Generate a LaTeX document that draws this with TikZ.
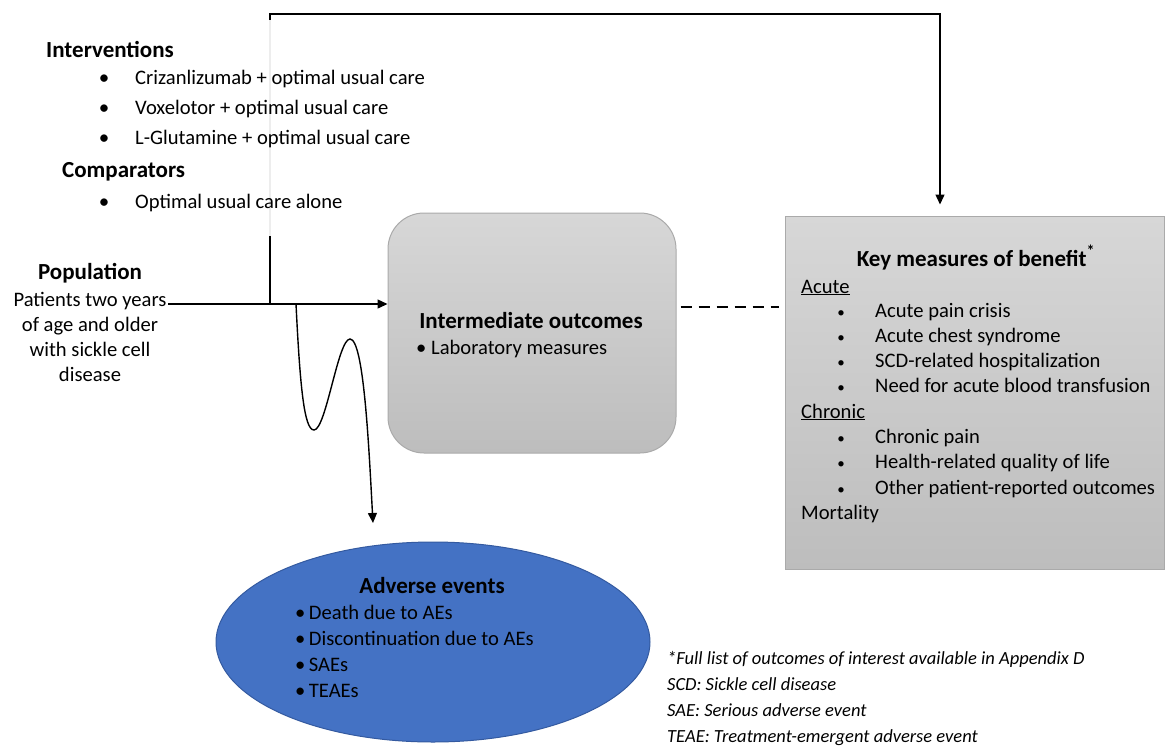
\documentclass[tikz,border=0pt]{standalone}
\usepackage{fontspec}
\setmainfont{Carlito}
\usetikzlibrary{arrows.meta,shapes.geometric}

\definecolor{boxTop}{RGB}{215,215,215}
\definecolor{boxBottom}{RGB}{189,189,189}
\definecolor{boxBorder}{RGB}{170,170,170}
\definecolor{aeFill}{RGB}{68,114,196}
\definecolor{aeBorder}{RGB}{52,90,160}

\begin{document}
\begin{tikzpicture}[x=1pt,y=-1pt,%%
  lineStyle/.style={-,line width=1.4pt},%%
  arrowStyle/.style={lineStyle,-{Triangle[length=10pt,width=9pt]}},%%
  dashStyle/.style={-,line width=2.6pt,dash pattern=on 11pt off 7pt},%%
  textStyle/.style={inner sep=0pt,anchor=base west,font=\fontsize{20.6}{24}\selectfont},%%
  titleStyle/.style={textStyle,font=\fontsize{23}{27}\selectfont\bfseries},%%
  noteStyle/.style={textStyle,font=\fontsize{18.5}{22}\selectfont\itshape},%%
  bulletStyle/.style={inner sep=0pt,anchor=base,font=\fontsize{21}{24}\selectfont},%%
  smallBulletStyle/.style={bulletStyle,font=\fontsize{15}{22}\selectfont},%%
  greyBox/.style={draw=boxBorder,line width=1pt,top color=boxTop,bottom color=boxBottom,inner sep=0pt}
]
\useasboundingbox (0,0) rectangle (1165,748);
%%
%% Points where the connectors start or end.
%%
\coordinate (popStart) at (168,304);
\coordinate (split) at (270,304);
\coordinate (topRight) at (940,14);
\coordinate (waveStart) at (296,304);
\coordinate (waveEnd) at (373,523);
%%
%% The boxes.
%%
\node[greyBox,minimum width=379,minimum height=353] (keyBox) at (974.5,392.5) {};
%% The link to the key measures, hidden behind the list of interventions.
\draw[arrowStyle,shorten >=11pt] (split) |- (topRight) -- (topRight |- keyBox.north);
\node[fill=white,fill opacity=0.93,minimum width=400,minimum height=216,inner sep=0pt] (introCover) at (235,128) {};
\node[greyBox,rounded corners=36pt,minimum width=288,minimum height=240] (interm) at (532,333) {};
\node[ellipse,draw=aeBorder,fill=aeFill,line width=1pt,minimum width=434,minimum height=200,inner sep=0pt] (ae) at (433,642) {};
%%
%% The connectors.
%%
\draw[arrowStyle] (popStart) -- (popStart -| interm.west);
\draw[dashStyle,shorten >=6pt] ([xshift=4pt,yshift=26pt]interm.east) -- ([yshift=26pt]interm.east -| keyBox.west);
\draw[arrowStyle] (waveStart) .. controls (300,385) and (304,430) .. (314,430)
  .. controls (326,430) and (338,339) .. (350,339)
  .. controls (364,339) and (369,450) .. (waveEnd);
%%
%% Interventions and comparators.
%%
\node[titleStyle] (interv) at (46,57) {Interventions};
\foreach \entry [count=\i] in {Crizanlizumab + optimal usual care,Voxelotor + optimal usual care,L-Glutamine + optimal usual care}{
  \node[bulletStyle] (intervBullet\i) at (104,84+30*\i-30) {\textbullet};
  \node[textStyle] (interv\i) at (135,84+30*\i-30) {\entry};
}
\node[titleStyle] (comp) at (62,177) {Comparators};
\node[bulletStyle] (compBullet) at (104,208) {\textbullet};
\node[textStyle] (comp1) at (135,208) {Optimal usual care alone};
%%
%% Population.
%%
\node[titleStyle,anchor=base] (pop) at (90,279) {Population};
\foreach \entry [count=\i] in {Patients two years,of age and older,with sickle cell,disease}{
  \node[textStyle,anchor=base] (pop\i) at (90,306+25.3*\i-25.3) {\entry};
}
%%
%% Intermediate outcomes.
%%
\node[titleStyle,anchor=base] (intermTitle) at (531,328) {Intermediate outcomes};
\node[textStyle] (intermItem) at (416,354) {\textbullet\ Laboratory measures};
%%
%% Key measures of benefit.
%%
\node[titleStyle,anchor=base] (keyTitle) at (976,266) {Key measures of benefit\textsuperscript{*}};
\node[textStyle] (acute) at (801,293) {\underline{Acute}};
\foreach \entry [count=\i] in {Acute pain crisis,Acute chest syndrome,SCD-related hospitalization,Need for acute blood transfusion}{
  \node[smallBulletStyle] (acuteBullet\i) at (841,317+25.3*\i-25.3) {\textbullet};
  \node[textStyle] (acute\i) at (875,317+25.3*\i-25.3) {\entry};
}
\node[textStyle] (chronic) at (801,418) {\underline{Chronic}};
\foreach \entry [count=\i] in {Chronic pain,Health-related quality of life,Other patient-reported outcomes}{
  \node[smallBulletStyle] (chronicBullet\i) at (841,443+25.5*\i-25.5) {\textbullet};
  \node[textStyle] (chronic\i) at (875,443+25.5*\i-25.5) {\entry};
}
\node[textStyle] (mortality) at (801,519) {Mortality};
%%
%% Adverse events.
%%
\node[titleStyle,anchor=base] (aeTitle) at (432,593) {Adverse events};
\foreach \entry [count=\i] in {Death due to AEs,Discontinuation due to AEs,SAEs,TEAEs}{
  \node[textStyle] (aeItem\i) at (295,619+26.3*\i-26.3) {\textbullet\,\entry};
}
%%
%% Footnotes.
%%
\foreach \entry [count=\i] in {*Full list of outcomes of interest available in Appendix D,SCD: Sickle cell disease,SAE: Serious adverse event,TEAE: Treatment-emergent adverse event}{
  \node[noteStyle] (note\i) at (667,664+26.3*\i-26.3) {\entry};
}
\end{tikzpicture}
\end{document}
